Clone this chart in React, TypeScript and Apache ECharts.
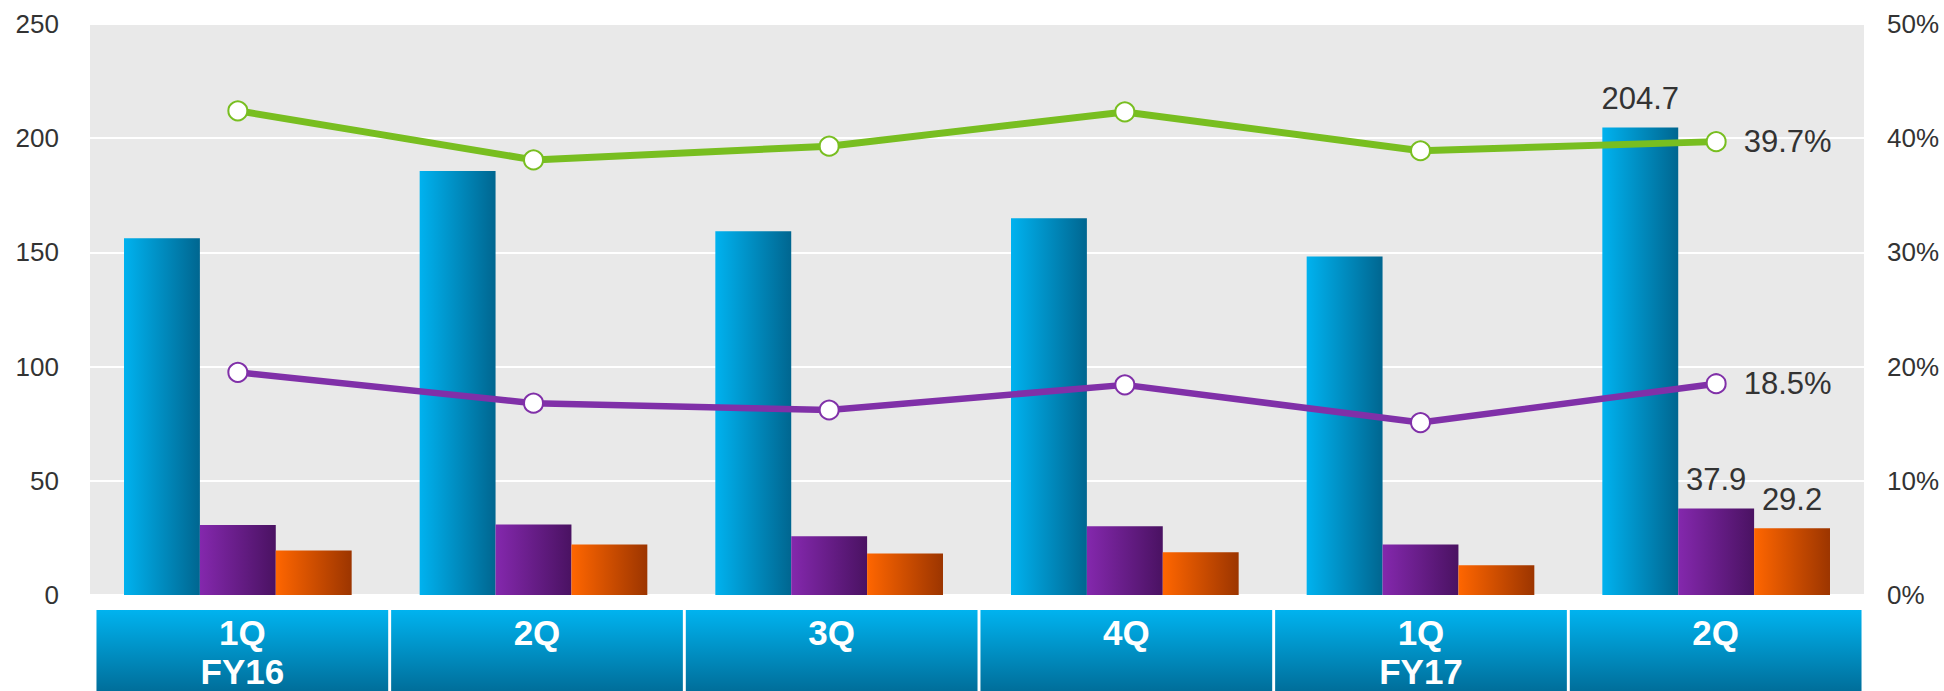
import React, { useEffect, useRef } from 'react';
import * as echarts from 'echarts';

const quarters = ['1Q', '2Q', '3Q', '4Q', '1Q', '2Q'];
const fiscalYears = ['FY16', '', '', '', 'FY17', ''];
const categories = quarters.map((q, i) => (fiscalYears[i] ? q + '\n' + fiscalYears[i] : q));

const salesValues = [156.2, 185.6, 159.3, 165.0, 148.2, 204.7];
const grossProfitValues = [30.6, 30.9, 25.7, 30.1, 22.1, 37.9];
const operatingValues = [19.5, 22.1, 18.2, 18.7, 13.0, 29.2];
const marginAValues = [42.4, 38.1, 39.3, 42.3, 38.9, 39.7];
const marginBValues = [19.5, 16.8, 16.2, 18.4, 15.1, 18.5];

const leftAxisMin = 0;
const leftAxisMax = 250;
const leftAxisStep = 50;
const rightAxisMin = 0;
const rightAxisMax = 50;
const rightAxisStep = 10;

const FONT = '"Liberation Sans", Arial, sans-serif';

const hGrad = (a: string, b: string) =>
  new echarts.graphic.LinearGradient(0, 0, 1, 0, [
    { offset: 0, color: a },
    { offset: 1, color: b },
  ]);

const lastOnly = (vals: number[]) =>
  vals.map((v, i) => (i === vals.length - 1 ? { value: v, label: { show: true } } : v));

export default function App() {
  const ref = useRef<HTMLDivElement>(null);

  useEffect(() => {
    if (!ref.current) return;
    const chart = echarts.init(ref.current, undefined, { renderer: 'svg' });
    const barLabel = {
      show: false,
      position: 'top',
      distance: 13,
      fontSize: 31,
      color: '#333333',
      fontFamily: FONT,
      formatter: '{c}',
    };
    const lineLabel = {
      show: false,
      position: 'right',
      distance: 17,
      fontSize: 31,
      color: '#333333',
      fontFamily: FONT,
      formatter: '{c}%',
    };
    chart.setOption({
      animation: false,
      backgroundColor: '#ffffff',
      textStyle: { fontFamily: FONT },
      grid: [
        {
          left: 90,
          right: 80,
          top: 24,
          bottom: 96,
          show: true,
          backgroundColor: '#E9E9E9',
          borderWidth: 0,
        },
        { left: 95, right: 81, top: 610, bottom: 0 },
      ],
      xAxis: [
        {
          type: 'category',
          data: categories,
          gridIndex: 0,
          axisLine: { show: false },
          axisTick: { show: false },
          axisLabel: { show: false },
        },
        {
          type: 'category',
          data: categories,
          gridIndex: 1,
          axisLine: { show: false },
          axisTick: { show: false },
          axisLabel: { show: false },
        },
      ],
      yAxis: [
        {
          type: 'value',
          gridIndex: 0,
          min: leftAxisMin,
          max: leftAxisMax,
          interval: leftAxisStep,
          axisLine: { show: false },
          axisTick: { show: false },
          axisLabel: { fontSize: 26, color: '#333333', margin: 31, fontFamily: FONT },
          splitLine: { lineStyle: { color: '#ffffff', width: 2 } },
        },
        {
          type: 'value',
          gridIndex: 0,
          position: 'right',
          min: rightAxisMin,
          max: rightAxisMax,
          interval: rightAxisStep,
          axisLine: { show: false },
          axisTick: { show: false },
          axisLabel: {
            fontSize: 26,
            color: '#333333',
            margin: 23,
            fontFamily: FONT,
            formatter: '{value}%',
          },
          splitLine: { show: false },
        },
        {
          type: 'value',
          gridIndex: 1,
          min: 0,
          max: 1,
          show: false,
          splitLine: { show: false },
        },
      ],
      series: [
        {
          name: 'Sales',
          type: 'bar',
          xAxisIndex: 0,
          yAxisIndex: 0,
          barGap: '0%',
          barCategoryGap: '23%',
          data: lastOnly(salesValues),
          itemStyle: { color: hGrad('#00B2EF', '#006690') },
          label: barLabel,
        },
        {
          name: 'Gross profit',
          type: 'bar',
          xAxisIndex: 0,
          yAxisIndex: 0,
          barGap: '0%',
          barCategoryGap: '23%',
          data: lastOnly(grossProfitValues),
          itemStyle: { color: hGrad('#8428AD', '#4A1262') },
          label: barLabel,
        },
        {
          name: 'Operating income',
          type: 'bar',
          xAxisIndex: 0,
          yAxisIndex: 0,
          barGap: '0%',
          barCategoryGap: '23%',
          data: lastOnly(operatingValues),
          itemStyle: { color: hGrad('#FF6600', '#9C3500') },
          label: barLabel,
        },
        {
          name: 'Gross margin',
          type: 'line',
          xAxisIndex: 0,
          yAxisIndex: 1,
          data: lastOnly(marginAValues),
          symbol: 'circle',
          symbolSize: 19,
          lineStyle: { color: '#78BE20', width: 7 },
          itemStyle: { color: '#ffffff', borderColor: '#78BE20', borderWidth: 2 },
          label: lineLabel,
          z: 5,
        },
        {
          name: 'Operating margin',
          type: 'line',
          xAxisIndex: 0,
          yAxisIndex: 1,
          data: lastOnly(marginBValues),
          symbol: 'circle',
          symbolSize: 19,
          lineStyle: { color: '#8030A8', width: 6.5 },
          itemStyle: { color: '#ffffff', borderColor: '#8030A8', borderWidth: 2 },
          label: lineLabel,
          z: 5,
        },
        {
          name: 'band',
          type: 'bar',
          xAxisIndex: 1,
          yAxisIndex: 2,
          barCategoryGap: '1%',
          data: categories.map(() => 1),
          itemStyle: {
            color: new echarts.graphic.LinearGradient(0, 0, 0, 1, [
              { offset: 0, color: '#00B3EF' },
              { offset: 1, color: '#006E9A' },
            ]),
          },
          label: {
            show: true,
            position: 'insideTop',
            distance: 0,
            padding: [3, 0, 0, 0],
            formatter: (p: any) => p.name,
            color: '#ffffff',
            fontWeight: 'bold',
            fontSize: 35,
            lineHeight: 39,
            fontFamily: FONT,
          },
          silent: true,
        },
      ],
    });
    return () => chart.dispose();
  }, []);

  return (
    <div
      ref={ref}
      style={{ position: 'fixed', left: 0, top: 0, width: 1944, height: 691 }}
    />
  );
}
